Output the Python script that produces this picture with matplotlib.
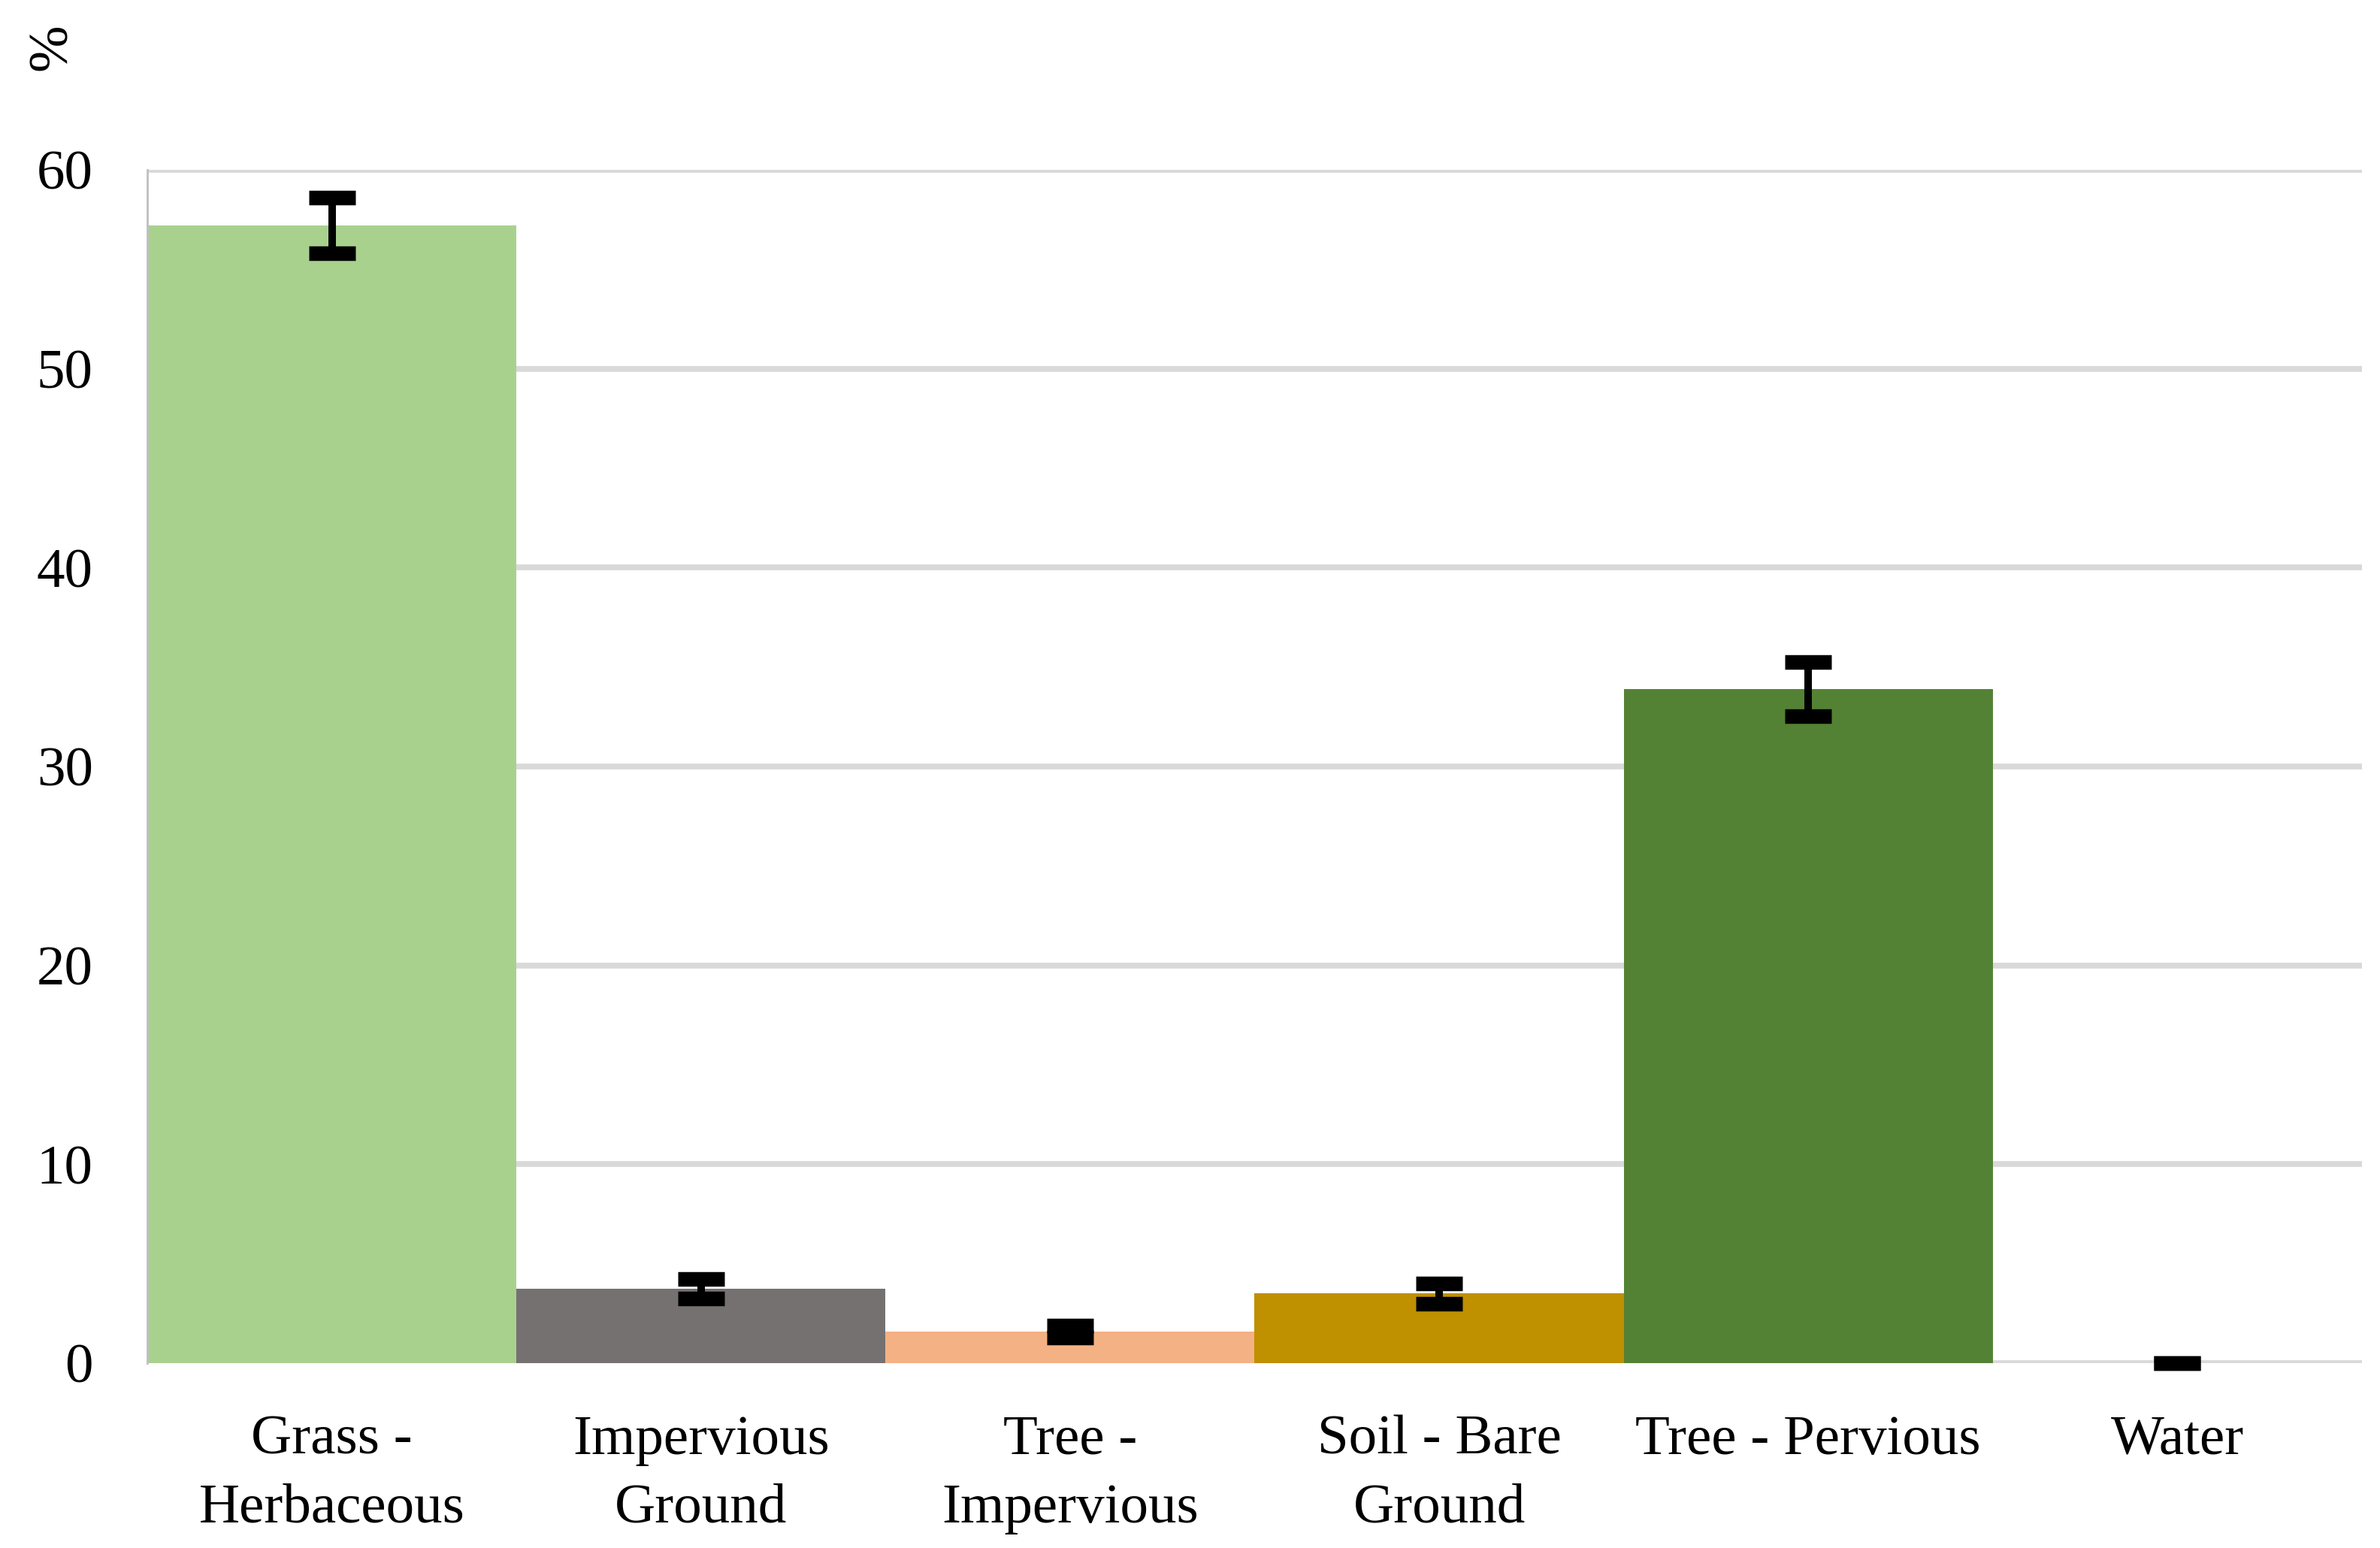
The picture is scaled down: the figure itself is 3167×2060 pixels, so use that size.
import matplotlib
matplotlib.use("Agg")
import matplotlib.pyplot as plt

categories = ["Grass -\nHerbaceous", "Impervious\nGround", "Tree -\nImpervious",
              "Soil - Bare\nGround", "Tree - Pervious", "Water"]
values = [57.2, 3.75, 1.6, 3.5, 33.9, 0.0]
errors = [1.4, 0.5, 0.3, 0.5, 1.35, 0.0]
colors = ["#A9D18E", "#767171", "#F4B183", "#BF9000", "#548235", "#4472C4"]
yticks = [0, 10, 20, 30, 40, 50, 60]

plt.rcParams['font.family'] = ['Liberation Serif', 'DejaVu Serif']

fig = plt.figure(figsize=(15.835, 10.3), dpi=200)
ax = fig.add_axes([0.0619, 0.1194, 0.9305, 0.7709])

x = list(range(len(categories)))
ax.bar(x, values, width=1.0, color=colors, zorder=2)
eb = ax.errorbar(x, values, yerr=errors, fmt='none', ecolor='black', elinewidth=3.6,
                 capsize=11, capthick=7, zorder=3)
for artist in eb.lines[1]:
    artist.set_clip_on(False)
for artist in eb.lines[2]:
    artist.set_clip_on(False)

ax.set_xlim(-0.5, len(categories) - 0.5)
ax.set_ylim(0, 60)
ax.set_yticks(yticks)
ax.set_yticklabels([str(t) for t in yticks], fontsize=27)
ax.set_xticks(x)
ax.set_xticklabels(categories, fontsize=27, linespacing=1.45)
ax.tick_params(axis='both', length=0)
ax.tick_params(axis='y', pad=26)
ax.tick_params(axis='x', pad=25)

ax.yaxis.grid(True, color='#D9D9D9', linewidth=2.8, zorder=0)
ax.set_axisbelow(True)
for s in ['top', 'right', 'bottom']:
    ax.spines[s].set_visible(False)
ax.spines['left'].set_color('#BFBFBF')
ax.spines['left'].set_linewidth(1.0)

fig.text(0.022, 0.985, "%", rotation=90, fontsize=27, ha='center', va='top')

fig.savefig("out.png", dpi=200, facecolor='white')
